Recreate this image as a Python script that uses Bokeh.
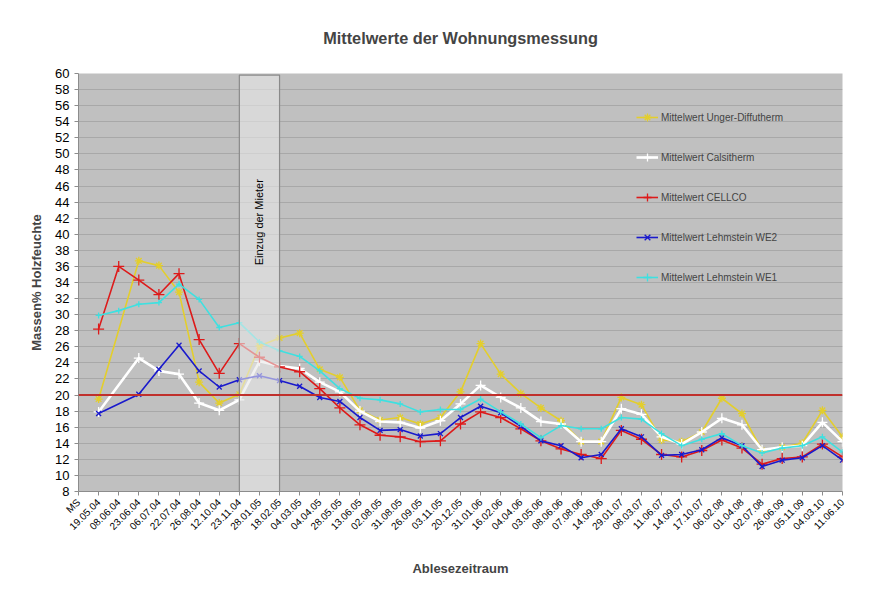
import math
from bokeh.plotting import figure
from bokeh.models import Span, Label, Legend, LegendItem, FixedTicker, ColumnDataSource
from bokeh.embed import file_html
from bokeh.resources import INLINE

# ---------------- data ----------------
categories = ["MS", "19.05.04", "08.06.04", "23.06.04", "06.07.04", "22.07.04", "26.08.04",
              "12.10.04", "23.11.04", "28.01.05", "18.02.05", "04.03.05", "04.04.05", "28.05.05",
              "13.06.05", "02.08.05", "31.08.05", "26.09.05", "03.11.05", "20.12.05", "31.01.06",
              "16.02.06", "04.04.06", "03.05.06", "08.06.06", "07.08.06", "14.09.06", "29.01.07",
              "08.03.07", "11.06.07", "14.09.07", "17.10.07", "06.02.08", "01.04.08", "02.07.08",
              "26.06.09", "05.11.09", "04.03.10", "11.06.10"]

unger_diffutherm = [None, 19.5, None, 36.7, 36.1, 32.8, 21.6, 19.0, 20.1, 26.1, 27.1, 27.7, 23.2, 22.2,
                    18.1, 16.9, 17.2, 16.4, 17.2, 20.4, 26.4, 22.6, 20.2, 18.4, 16.8, 14.2, 14.2, 19.7,
                    18.8, 14.4, 14.2, 15.4, 19.6, 17.7, 13.1, 13.5, 14.0, 18.1, 14.8]
calsitherm = [None, 17.9, None, 24.6, 23.0, 22.6, 19.0, 18.1, 19.4, 24.2, 23.6, 23.3, 21.6, 20.4,
              18.0, 16.7, 16.6, 15.9, 16.8, 18.9, 21.2, 19.7, 18.4, 16.7, 16.4, 14.2, 14.2, 18.3,
              17.6, 14.8, 13.9, 15.4, 17.1, 16.3, 13.2, 13.5, 13.7, 16.6, 14.2]
cellco = [None, 28.2, 36.0, 34.3, 32.5, 35.1, 26.9, 22.7, 26.4, 24.7, 23.5, 22.9, 20.8, 18.4,
          16.3, 15.0, 14.8, 14.2, 14.3, 16.4, 17.9, 17.2, 15.8, 14.3, 13.3, 12.6, 12.1, 15.6,
          14.5, 12.6, 12.3, 13.1, 14.4, 13.4, 11.4, 12.1, 12.3, 13.9, 12.3]
lehmstein_we2 = [None, 17.7, None, 20.1, 23.2, 26.2, 23.0, 21.0, 21.9, 22.4, 21.8, 21.1, 19.7, 19.2,
                 17.2, 15.6, 15.7, 14.9, 15.2, 17.2, 18.6, 17.8, 16.1, 14.3, 13.7, 12.2, 12.6, 15.8,
                 14.8, 12.5, 12.6, 13.2, 14.7, 13.7, 11.1, 11.9, 12.2, 13.7, 11.9]
lehmstein_we1 = [None, 29.9, 30.5, 31.3, 31.5, 33.8, 31.9, 28.4, 29.0, 26.6, 25.5, 24.8, 23.0, 20.8,
                 19.6, 19.4, 18.9, 17.9, 18.2, 18.2, 19.5, 17.9, 16.4, 14.7, 16.2, 15.8, 15.8, 17.2,
                 17.0, 15.2, 13.7, 14.5, 15.2, 13.7, 12.8, 13.4, 13.7, 14.8, 12.9]

series_names = ["Mittelwert Unger-Diffutherm", "Mittelwert Calsitherm", "Mittelwert CELLCO",
                "Mittelwert Lehmstein WE2", "Mittelwert Lehmstein WE1"]
grenzwert = 20
einzug_von = "23.11.04"
einzug_bis = "18.02.05"
einzug_text = "Einzug der Mieter"

y_ticks = list(range(8, 61, 2))

# ---------------- styles ----------------
FONT = "Liberation Sans"
styles = [
    dict(color="#E3CE2C", width=1.6, marker="asterisk", size=8),
    dict(color="#FFFFFF", width=2.6, marker="cross", size=10),
    dict(color="#DD1A1A", width=1.6, marker="cross", size=11),
    dict(color="#1A1ACC", width=1.6, marker="x", size=7),
    dict(color="#3EE0E0", width=1.6, marker="cross", size=6),
]

n = len(categories)
p = figure(width=867, height=592, output_backend="svg", toolbar_location=None,
           x_range=(0, n - 1), y_range=(8, 60),
           min_border_left=78, min_border_right=25, min_border_top=73, min_border_bottom=101)

p.background_fill_color = "#C0C0C0"
p.border_fill_color = "white"
p.outline_line_color = None

p.title.text = "Mittelwerte der Wohnungsmessung"
p.title.align = "center"
p.title.vertical_align = "top"
p.title.text_font = FONT
p.title.text_font_size = "16.3px"
p.title.text_font_style = "bold"
p.title.standoff = 50

# axes
p.xaxis.ticker = FixedTicker(ticks=list(range(n)))
p.xaxis.major_label_overrides = {i: c for i, c in enumerate(categories)}
p.xaxis.major_label_orientation = math.pi / 4
p.xaxis.major_label_text_font = FONT
p.xaxis.major_label_text_font_size = "10px"
p.xaxis.axis_label = "Ablesezeitraum"
p.xaxis.axis_label_text_font = FONT
p.xaxis.axis_label_text_font_size = "13px"
p.xaxis.axis_label_text_font_style = "bold"
p.xaxis.axis_label_standoff = 22

p.yaxis.ticker = FixedTicker(ticks=y_ticks)
p.yaxis.major_label_text_font = FONT
p.yaxis.major_label_text_font_size = "13px"
p.yaxis.axis_label = "Massen% Holzfeuchte"
p.yaxis.axis_label_text_font = FONT
p.yaxis.axis_label_text_font_size = "13px"
p.yaxis.axis_label_text_font_style = "bold"
p.yaxis.axis_label_standoff = 8

for ax in (p.xaxis, p.yaxis):
    ax.axis_line_color = "#8C8C8C"
    ax.major_tick_line_color = "#8C8C8C"
    ax.major_tick_out = 4
    ax.major_tick_in = 0
    ax.minor_tick_line_color = None
    ax.major_label_text_color = "black"

p.xgrid.grid_line_color = None
p.ygrid.ticker = FixedTicker(ticks=y_ticks)
p.ygrid.grid_line_color = "#A8A8A8"
p.ygrid.grid_line_width = 1

# series
all_series = [unger_diffutherm, calsitherm, cellco, lehmstein_we2, lehmstein_we1]
items = []
for name, vals, st in zip(series_names, all_series, styles):
    xs = [i for i, v in enumerate(vals) if v is not None]
    ys = [v for v in vals if v is not None]
    src = ColumnDataSource(dict(x=xs, y=ys))
    ln = p.line("x", "y", source=src, line_color=st["color"], line_width=st["width"])
    sc = p.scatter("x", "y", source=src, marker=st["marker"], size=st["size"],
                   line_color=st["color"], fill_color=st["color"], line_width=1.3)
    items.append(LegendItem(label=name, renderers=[ln, sc]))

# tenants moving in: shaded period
i0 = categories.index(einzug_von)
i1 = categories.index(einzug_bis)
p.quad(left=[i0], right=[i1], bottom=[8], top=[59.8], fill_color="#E8E8E8", fill_alpha=0.6,
       line_color="#8A8A8A", line_width=1.2)
p.add_layout(Label(x=(i0 + i1) / 2, y=41.5, text=einzug_text, angle=math.pi / 2,
                   text_align="center", text_baseline="middle", text_font=FONT,
                   text_font_size="11px", text_color="black"))

# limit line
p.add_layout(Span(location=grenzwert, dimension="width", line_color="#C0302C", line_width=2))

legend = Legend(items=items, location=(558, 204), orientation="vertical",
                glyph_width=22, glyph_height=20, label_height=20, spacing=20,
                padding=0, margin=0, label_standoff=3,
                label_text_font=FONT, label_text_font_size="10px",
                border_line_alpha=0, background_fill_alpha=0)
p.add_layout(legend)

open("out.html", "w").write(file_html(p, INLINE))
